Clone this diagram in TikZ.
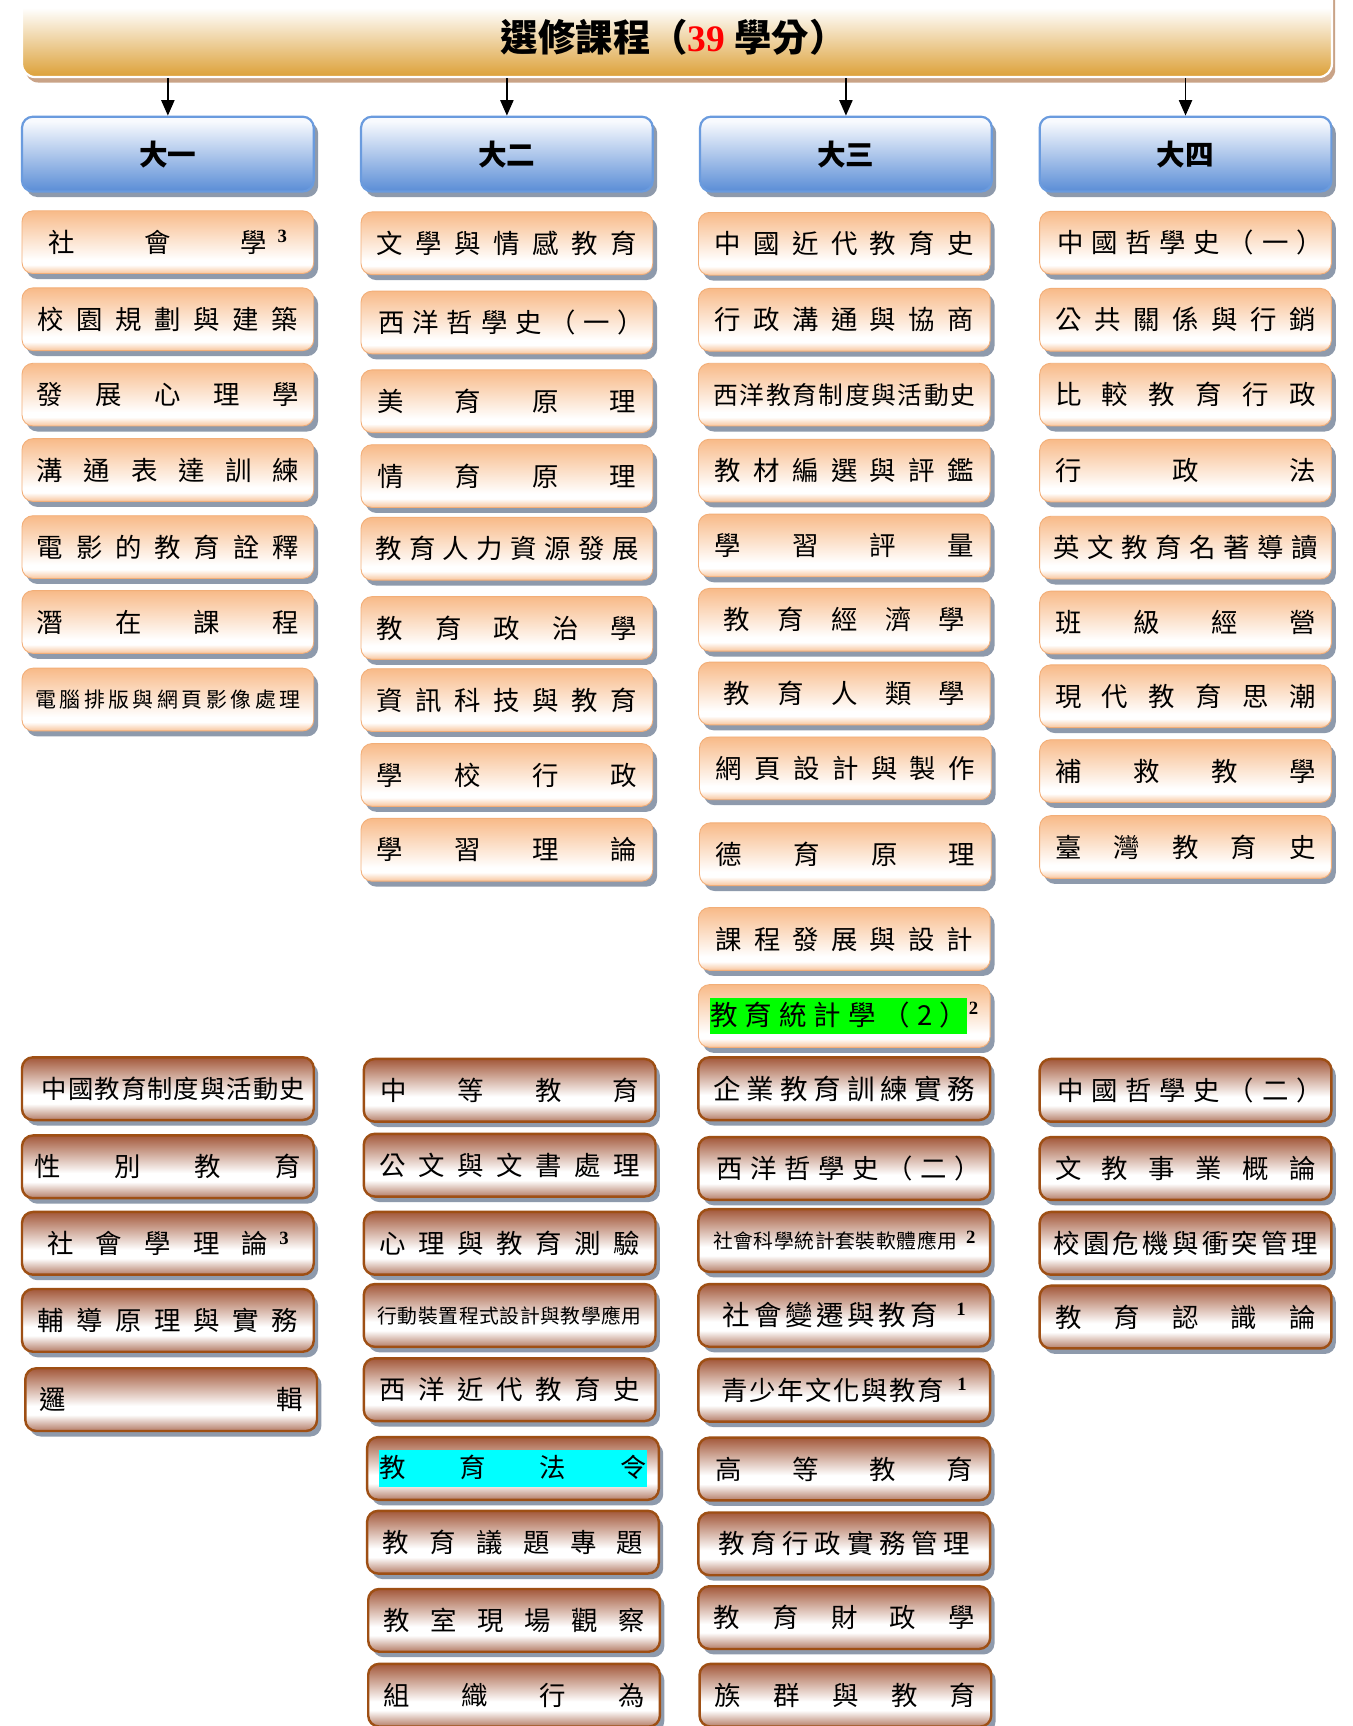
\documentclass[tikz,border=0pt]{standalone}
\usepackage{fontspec}
\usetikzlibrary{shadows,arrows.meta}
\newfontfamily\cjk{Noto Sans CJK TC}
\newfontfamily\serf{Liberation Serif}
\definecolor{peach}{HTML}{F8BA88}
\definecolor{peachlow}{HTML}{F8C59C}
\definecolor{peachline}{HTML}{F2AE78}
\definecolor{brown}{HTML}{A3583A}
\definecolor{brownlow}{HTML}{B47C66}
\definecolor{brownline}{HTML}{9E4F14}
\definecolor{blue}{HTML}{5A8DD6}
\definecolor{bluetop}{HTML}{F8FAFE}
\definecolor{blueline}{HTML}{6A9BDE}
\definecolor{gold}{HTML}{DCA037}
\definecolor{titleshadow}{HTML}{C9A387}
\definecolor{shgray}{HTML}{8E9AAC}
\definecolor{hlgreen}{HTML}{00FF00}
\definecolor{hlcyan}{HTML}{00FFFF}
\pgfdeclareverticalshading{peachsh}{100bp}{color(0bp)=(peachlow); color(25bp)=(peachlow); color(32bp)=(white); color(36bp)=(white); color(75bp)=(peach); color(100bp)=(peach)}
\pgfdeclareverticalshading{brownsh}{100bp}{color(0bp)=(brownlow); color(25bp)=(brownlow); color(38bp)=(white); color(45bp)=(white); color(75bp)=(brown); color(100bp)=(brown)}
\pgfdeclareverticalshading{bluesh}{100bp}{color(0bp)=(blue); color(25bp)=(blue); color(72bp)=(bluetop); color(100bp)=(bluetop)}
\pgfdeclareverticalshading{goldsh}{100bp}{color(0bp)=(gold); color(25bp)=(gold); color(62bp)=(white); color(100bp)=(white)}
% spread characters evenly across a box
\def\sp#1{\spA#1\relax}
\def\spA#1{#1\spB}
\def\spB#1{\ifx\relax#1\else\hfill#1\expandafter\spB\fi}
\newcommand\sq[2]{\makebox[#1pt][s]{\sp{#2}}}
% \supn[raise]{gap}{digit}
\newcommand\supn[3][8.5]{\hspace{#2pt}\smash{\raisebox{#1pt}{\serf\bfseries\fontsize{17}{17}\selectfont #3}}}
\newcommand\hl[3]{{\setlength\fboxsep{0pt}\colorbox{#1}{\rule[-8pt]{0pt}{33pt}\sq{#2}{#3}}}}
\tikzset{
  basebox/.style={rectangle, rounded corners=10pt, minimum width=265pt, minimum height=57pt, inner sep=0pt,
    drop shadow={shadow xshift=4pt, shadow yshift=-5pt, fill=shgray, opacity=1},
    font=\cjk\fontsize{24}{28}\selectfont},
  peachbox/.style={basebox, draw=peachline, line width=0.8pt, shade, shading=peachsh},
  brownbox/.style={basebox, draw=brownline, line width=2.2pt, shade, shading=brownsh},
  headbox/.style={basebox, minimum height=68pt, draw=blueline, line width=2pt, shade, shading=bluesh,
    font=\cjk\bfseries\fontsize{26}{30}\selectfont},
  titlebox/.style={rectangle, rounded corners=12pt, minimum width=1190pt, minimum height=85pt, inner sep=0pt,
    draw=white, line width=2pt, shade, shading=goldsh,
    drop shadow={shadow xshift=3pt, shadow yshift=-5pt, fill=titleshadow, opacity=1}},
  fsmall/.style={font=\cjk\fontsize{19}{22}\selectfont},
  fxsmall/.style={font=\cjk\fontsize{18}{21}\selectfont},
  fmid/.style={font=\cjk\fontsize{22.5}{26}\selectfont},
  fmidb/.style={font=\cjk\fontsize{23}{26}\selectfont},
  fbig/.style={font=\cjk\fontsize{25}{28}\selectfont},
  arr/.style={line width=1.3pt, -{Triangle[width=12pt,length=14pt]}}
}
\begin{document}
\begin{tikzpicture}[x=1pt,y=-1pt]
\useasboundingbox[fill=white] (0,0) rectangle (1229,1568);
% title
\node[titlebox] (title) at (615,27.5) {};
\node[font=\cjk\bfseries\fontsize{34}{38}\selectfont, inner sep=0pt] (titletext) at (612,34)
  {選修課程（{\serf\bfseries\color{red}39}\hspace{8pt}學分）};
% headers
\node[headbox] (hA) at (152.5,140) {大一};
\node[headbox] (hB) at (460.5,140) {大二};
\node[headbox] (hC) at (768.5,140) {大三};
\node[headbox] (hD) at (1077,140) {大四};
\foreach \h in {hA,hB,hC,hD} \draw[arr] (title.south -| \h.north) -- (\h.north);
% column 1
\node[peachbox] (a1) at (152.5,220) {\sq{198}{社會學}\supn{10}{3}};
\node[peachbox] (a2) at (152.5,290) {\sq{237}{校園規劃與建築}};
\node[peachbox] (a3) at (152.5,358.5) {\sq{238}{發展心理學}};
\node[peachbox] (a4) at (152.5,427) {\sq{238}{溝通表達訓練}};
\node[peachbox] (a5) at (152.5,497) {\sq{238}{電影的教育詮釋}};
\node[peachbox] (a6) at (152.5,565) {\sq{238}{潛在課程}};
\node[peachbox,fsmall] (a7) at (152.5,635.5) {\sq{241}{電腦排版與網頁影像處理}};
\node[brownbox,fmidb] (b1) at (152.5,989) {\hspace{10pt}\sq{239}{中國教育制度與活動史}};
\node[brownbox] (b2) at (152.5,1060) {\sq{242}{性別教育}};
\node[brownbox] (b3) at (152.5,1129.5) {\sq{201}{社會學理論}\supn{10}{3}};
\node[brownbox] (b4) at (152.5,1199.5) {\sq{236}{輔導原理與實務}};
\node[brownbox] (b5) at (155.5,1271.5) {\sq{239}{邏輯}};
% column 2
\node[peachbox] (c1) at (460.5,221) {\sq{237}{文學與情感教育}};
\node[peachbox] (c2) at (460.5,293) {\hspace{8pt}\sq{241}{西洋哲學史（一）}};
\node[peachbox] (c3) at (460.5,364.5) {\sq{235}{美育原理}};
\node[peachbox] (c4) at (460.5,432.5) {\sq{235}{情育原理}};
\node[peachbox] (c5) at (460.5,498.5) {\sq{239}{教育人力資源發展}};
\node[peachbox] (c6) at (460.5,570.5) {\sq{237}{教育政治學}};
\node[peachbox] (c7) at (460.5,636) {\sq{237}{資訊科技與教育}};
\node[peachbox] (c8) at (460.5,704) {\sq{237}{學校行政}};
\node[peachbox] (c9) at (460.5,772) {\sq{237}{學習理論}};
\node[brownbox] (d1) at (463,990.5) {\sq{235}{中等教育}};
\node[brownbox] (d2) at (463,1058.5) {\sq{237}{公文與文書處理}};
\node[brownbox] (d3) at (463,1129.5) {\sq{237}{心理與教育測驗}};
\node[brownbox,fxsmall] (d4) at (463,1195) {\sq{240}{行動裝置程式設計與教學應用}};
\node[brownbox] (d5) at (463,1262.5) {\sq{237}{西洋近代教育史}};
\node[brownbox] (d6) at (466,1334) {\hl{hlcyan}{243}{教育法令}};
\node[brownbox] (d7) at (466,1401) {\sq{237}{教育議題專題}};
\node[brownbox] (d8) at (467,1472) {\sq{237}{教室現場觀察}};
\node[brownbox] (d9) at (467,1540) {\sq{237}{組織行為}};
% column 3
\node[peachbox] (e1) at (767,221.5) {\sq{235}{中國近代教育史}};
\node[peachbox] (e2) at (767,290.5) {\sq{235}{行政溝通與協商}};
\node[peachbox,fmid] (e3) at (767,358.5) {\sq{238}{西洋教育制度與活動史}};
\node[peachbox] (e4) at (767,427.5) {\sq{236}{教材編選與評鑑}};
\node[peachbox] (e5) at (767,495.5) {\sq{236}{學習評量}};
\node[peachbox] (e6) at (767,563) {\sq{220}{教育經濟學}};
\node[peachbox] (e7) at (767,630) {\sq{220}{教育人類學}};
\node[peachbox] (e8) at (768,698) {\sq{236}{網頁設計與製作}};
\node[peachbox] (e9) at (768,776) {\sq{236}{德育原理}};
\node[peachbox] (e10) at (767,853) {\sq{234}{課程發展與設計}};
\node[peachbox,fbig] (e11) at (767,923) {\hl{hlgreen}{233}{教育統計學（2）}\supn[10]{2}{2}};
\node[brownbox,fbig] (f1) at (767,989) {\sq{238}{企業教育訓練實務}};
\node[brownbox] (f2) at (767,1061.5) {\hspace{8pt}\sq{241}{西洋哲學史（二）}};
\node[brownbox,fxsmall] (f3) at (767,1127) {\sq{222}{社會科學統計套裝軟體應用}\supn[4]{8}{2}};
\node[brownbox,fbig] (f4) at (767,1195) {\sq{195}{社會變遷與教育}\supn[9.5]{17}{1}};
\node[brownbox] (f5) at (767,1263) {\sq{202}{青少年文化與教育}\supn{12}{1}};
\node[brownbox] (f6) at (767,1334.5) {\sq{234}{高等教育}};
\node[brownbox] (f7) at (767,1402.5) {\sq{229}{教育行政實務管理}};
\node[brownbox] (f8) at (767,1469.5) {\sq{238}{教育財政學}};
\node[brownbox] (f9) at (768,1540) {\sq{238}{族群與教育}};
% column 4
\node[peachbox] (g1) at (1077,220.5) {\hspace{8pt}\sq{241}{中國哲學史（一）}};
\node[peachbox] (g2) at (1077,290.5) {\sq{237}{公共關係與行銷}};
\node[peachbox] (g3) at (1077,358.5) {\sq{237}{比較教育行政}};
\node[peachbox] (g4) at (1077,427.5) {\sq{237}{行政法}};
\node[peachbox] (g5) at (1077,497.5) {\sq{240}{英文教育名著導讀}};
\node[peachbox] (g6) at (1077,565.5) {\sq{237}{班級經營}};
\node[peachbox] (g7) at (1077,632.5) {\sq{237}{現代教育思潮}};
\node[peachbox] (g8) at (1077,700.5) {\sq{237}{補救教學}};
\node[peachbox] (g9) at (1077,769.5) {\sq{237}{臺灣教育史}};
\node[brownbox] (h1) at (1077,990.5) {\hspace{8pt}\sq{241}{中國哲學史（二）}};
\node[brownbox] (h2) at (1077,1061.5) {\sq{237}{文教事業概論}};
\node[brownbox] (h3) at (1077,1129.5) {\sq{240}{校園危機與衝突管理}};
\node[brownbox] (h4) at (1077,1196.5) {\sq{237}{教育認識論}};
\end{tikzpicture}
\end{document}
